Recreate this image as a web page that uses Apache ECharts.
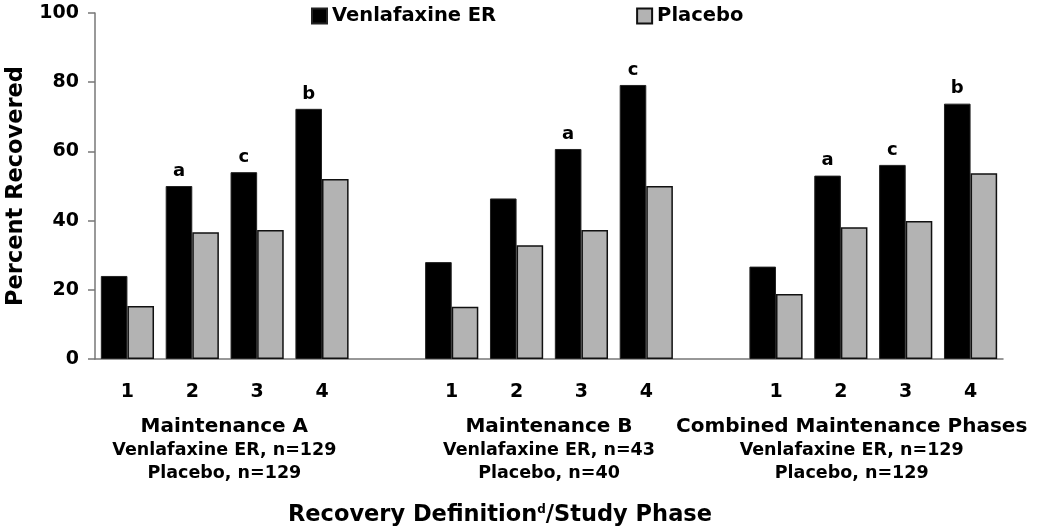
<!DOCTYPE html>
<html>
<head>
<meta charset="utf-8">
<script src="https://cdn.jsdelivr.net/npm/echarts@6/dist/echarts.min.js"></script>
<style>
  html, body { margin: 0; padding: 0; background: #fff; }
  #chart { width: 1050px; height: 531px; }
</style>
</head>
<body>
<div id="chart"></div>
<script>
// ---- data ----
var categories = ['1', '2', '3', '4', '', '1', '2', '3', '4', '', '1', '2', '3', '4'];
var venlafaxine = [24, 50, 54, 72.3, null, 28, 46.4, 60.7, 79.2, null, 26.7, 53, 56.1, 73.8];
var placebo = [15.3, 36.6, 37.3, 52, null, 15.1, 32.9, 37.3, 50, null, 18.8, 38.1, 39.9, 53.7];
var sigLetters = ['', 'a', 'c', 'b', '', '', '', 'a', 'c', '', '', 'a', 'c', 'b'];
var groupNames = ['Maintenance A', 'Maintenance B', 'Combined Maintenance Phases'];
var groupVenN = ['Venlafaxine ER, n=129', 'Venlafaxine ER, n=43', 'Venlafaxine ER, n=129'];
var groupPlaN = ['Placebo, n=129', 'Placebo, n=40', 'Placebo, n=129'];
var yTicks = [0, 20, 40, 60, 80, 100];

var FONT = 'DejaVu Sans';
var chart = echarts.init(document.getElementById('chart'), null, { renderer: 'canvas' });

var option = {
  backgroundColor: '#fff',
  animation: false,
  textStyle: { fontFamily: FONT, fontWeight: 'bold', color: '#000' },
  legend: {
    left: 306,
    top: 1,
    itemWidth: 15,
    itemHeight: 15,
    itemGap: 140,
    icon: 'rect',
    textStyle: { fontFamily: FONT, fontWeight: 'bold', fontSize: 19.5, color: '#000' },
    data: ['Venlafaxine ER', 'Placebo']
  },
  grid: { left: 95, right: 47, top: 13, bottom: 172, containLabel: false, outerBoundsMode: 'none' },
  xAxis: [
    {
      type: 'category',
      data: categories,
      axisLine: { show: true, lineStyle: { color: '#777', width: 1.5 } },
      axisTick: { show: false },
      axisLabel: { interval: 0, margin: 24, fontFamily: FONT, fontWeight: 'bold', fontSize: 19, color: '#000' }
    },
    {
      type: 'category',
      position: 'bottom',
      data: groupNames,
      axisLine: { show: false },
      axisTick: { show: false },
      axisLabel: {
        interval: 0,
        margin: 55,
        fontFamily: FONT,
        formatter: function (v, i) {
          var s = i === 0 ? 'S' : '';
          return '{t' + s + '|' + groupNames[i] + '}\n{n' + s + '|' + groupVenN[i] + '}\n{n' + s + '|' + groupPlaN[i] + '}';
        },
        rich: {
          t: { fontFamily: FONT, fontWeight: 'bold', fontSize: 20, color: '#000', lineHeight: 25, align: 'center' },
          n: { fontFamily: FONT, fontWeight: 'bold', fontSize: 17.5, color: '#000', lineHeight: 23, align: 'center' },
          tS: { fontFamily: FONT, fontWeight: 'bold', fontSize: 20, color: '#000', lineHeight: 25, align: 'center', padding: [0, 44, 0, 0] },
          nS: { fontFamily: FONT, fontWeight: 'bold', fontSize: 17.5, color: '#000', lineHeight: 23, align: 'center', padding: [0, 44, 0, 0] }
        }
      }
    }
  ],
  yAxis: {
    type: 'value',
    min: yTicks[0],
    max: yTicks[yTicks.length - 1],
    interval: 20,
    name: 'Percent Recovered',
    nameLocation: 'middle',
    nameGap: 67,
    nameRotate: 90,
    nameTextStyle: { fontFamily: FONT, fontWeight: 'bold', fontSize: 22.5, color: '#000' },
    axisLine: { show: true, lineStyle: { color: '#777', width: 1.5 } },
    axisTick: { show: true, inside: false, length: 7, lineStyle: { color: '#777', width: 1.5 } },
    splitLine: { show: false },
    axisLabel: { margin: 16, fontFamily: FONT, fontWeight: 'bold', fontSize: 19, color: '#000' }
  },
  graphic: [
    {
      type: 'text',
      x: 500,
      y: 515,
      style: {
        text: '{m|Recovery Definition}{s|d}{m|/Study Phase}',
        textAlign: 'center',
        textVerticalAlign: 'middle',
        rich: {
          m: { fontFamily: FONT, fontWeight: 'bold', fontSize: 22.5, fill: '#000' },
          s: { fontFamily: FONT, fontWeight: 'bold', fontSize: 12, fill: '#000', verticalAlign: 'top', padding: [0, 0, 10, 0] }
        }
      }
    }
  ],
  series: [
    {
      name: 'Venlafaxine ER',
      type: 'bar',
      data: venlafaxine,
      barGap: '0%',
      barCategoryGap: '18%',
      itemStyle: { color: '#000', borderColor: '#222', borderWidth: 1 },
      label: {
        show: true,
        position: 'top',
        distance: 6,
        fontFamily: FONT,
        fontWeight: 'bold',
        fontSize: 18,
        color: '#000',
        formatter: function (p) { return sigLetters[p.dataIndex]; }
      }
    },
    {
      name: 'Placebo',
      type: 'bar',
      data: placebo,
      barGap: '0%',
      barCategoryGap: '18%',
      itemStyle: { color: '#b3b3b3', borderColor: '#111', borderWidth: 1.5 }
    }
  ]
};
chart.setOption(option);
</script>
</body>
</html>
